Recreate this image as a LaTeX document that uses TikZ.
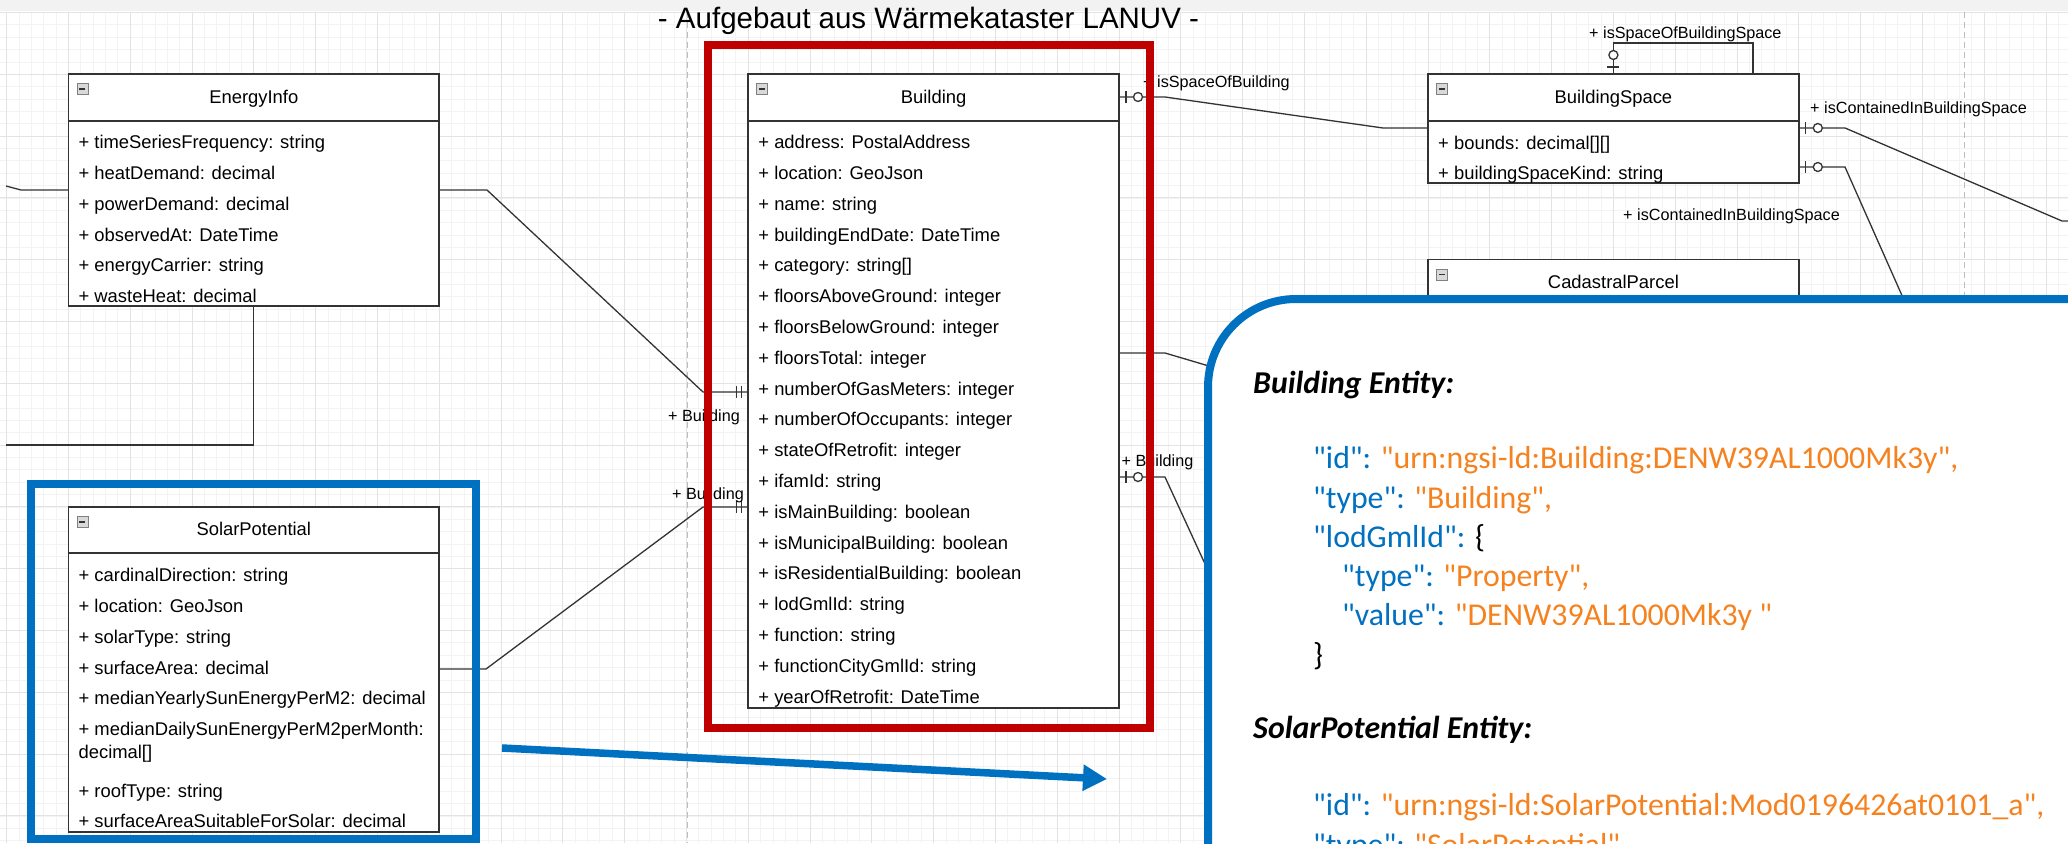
\documentclass[tikz,border=0pt]{standalone}
\usepackage{fontspec}
\setmainfont{Liberation Sans}
\newfontfamily\calfont{Carlito}
\usetikzlibrary{arrows.meta,calc}
\definecolor{gridmaj}{HTML}{E3E3E3}
\definecolor{gridmin}{HTML}{F3F3F3}
\definecolor{framec}{HTML}{333333}
\definecolor{redfr}{HTML}{C00000}
\definecolor{bluefr}{HTML}{0070C0}
\definecolor{jkey}{HTML}{0070C0}
\definecolor{jval}{HTML}{F5821F}
\definecolor{dashc}{HTML}{BDBDBD}
\definecolor{bandc}{HTML}{F2F2F2}
\begin{document}
\begin{tikzpicture}[x=1pt,y=-1pt,
 umlbox/.style={draw=framec, line width=1.5pt, fill=white, inner sep=0pt, outer sep=0pt, anchor=north west},
 conn/.style={draw=framec, line width=1.3pt},
 attr/.style={anchor=base west, inner sep=0pt, font=\fontsize{18.4}{22}\selectfont},
 hdr/.style={anchor=base, inner sep=0pt, font=\fontsize{18.4}{22}\selectfont},
 role/.style={anchor=base west, inner sep=0pt, font=\fontsize{16.2}{19}\selectfont},
 minusicon/.style={draw=gray, fill=gray!30, line width=0.8pt, minimum size=11pt, inner sep=0pt,
   path picture={\draw[line width=1.4pt,black!80] ([xshift=-3pt]path picture bounding box.center) -- ([xshift=3pt]path picture bounding box.center);}},
 json/.style={anchor=base west, inner sep=0pt, font=\calfont\fontsize{31.8}{38}\selectfont},
 jhead/.style={anchor=base west, inner sep=0pt, font=\calfont\bfseries\itshape\fontsize{31.8}{38}\selectfont},
 zo/.pic={\draw[conn] (7,-6) -- (7,6); \draw[conn, fill=white] (19,0) circle (4.5pt);},
 one/.pic={\draw[conn] (-12,-6) -- (-12,6) (-7,-6) -- (-7,6);},
 hdrline/.style={draw=framec, line width=1.5pt}
]
\useasboundingbox (0,0) rectangle (2068,843);
\clip (0,0) rectangle (2068,843);
% background and grid
\fill[white] (0,0) rectangle (2068,843);
\fill[bandc] (0,0) rectangle (2068,11);
\foreach \i in {0,...,167} \draw[gridmin, line width=0.8pt] ({6.6+12.36*\i},12) -- ({6.6+12.36*\i},843);
\foreach \i in {0,...,67} \draw[gridmin, line width=0.8pt] (0,{12.5+12.36*\i}) -- (2068,{12.5+12.36*\i});
\foreach \i in {0,...,33} \draw[gridmaj, line width=1pt] ({6.6+61.8*\i},12) -- ({6.6+61.8*\i},843);
\foreach \i in {0,...,13} \draw[gridmaj, line width=1pt] (0,{12.5+61.8*\i}) -- (2068,{12.5+61.8*\i});
\draw[dashc, dash pattern=on 6pt off 4pt, line width=1pt] (687,12) -- (687,843);
\draw[dashc, dash pattern=on 6pt off 4pt, line width=1pt] (1964,12) -- (1964,843);

% boxes
\node[umlbox, minimum width=370.8pt, minimum height=232pt] (ei) at (68.4,74) {};
\node[umlbox, minimum width=370.8pt, minimum height=634pt] (bld) at (748.2,74) {};
\node[umlbox, minimum width=370.8pt, minimum height=325pt] (sp) at (68.4,507) {};
\node[umlbox, minimum width=370.8pt, minimum height=109pt] (bs) at (1428,74) {};
\node[umlbox, minimum width=370.8pt, minimum height=160pt] (cp) at (1428,259.7) {};
\foreach \b in {ei,bld,bs,cp} \draw[hdrline] ([yshift=-47pt]\b.north west) -- ([yshift=-47pt]\b.north east);
\draw[hdrline] ([yshift=-46pt]sp.north west) -- ([yshift=-46pt]sp.north east);

% headers
\node[hdr] (eit) at ($(ei.north)+(0,29)$) {EnergyInfo};
\node[hdr] (bldt) at ($(bld.north)+(0,29)$) {Building};
\node[hdr] (spt) at ($(sp.north)+(0,28)$) {SolarPotential};
\node[hdr] (bst) at ($(bs.north)+(0,29)$) {BuildingSpace};
\node[hdr] (cpt) at ($(cp.north)+(0,28.3)$) {CadastralParcel};
\node[minusicon] (eim) at ($(ei.north west)+(14,15)$) {};
\node[minusicon] (bldm) at ($(bld.north west)+(14,15)$) {};
\node[minusicon] (spm) at ($(sp.north west)+(14,15)$) {};
\node[minusicon] (bsm) at ($(bs.north west)+(14,15)$) {};
\node[minusicon] (cpm) at ($(cp.north west)+(14,15)$) {};

% attributes
\foreach \t [count=\i from 0] in {{+ timeSeriesFrequency: string},{+ heatDemand: decimal},{+ powerDemand: decimal},{+ observedAt: DateTime},{+ energyCarrier: string},{+ wasteHeat: decimal}}
  \node[attr] (ea\i) at ($(ei.north west)+(10,{74.7+30.8*\i})$) {\t};
\foreach \t [count=\i from 0] in {{+ address: PostalAddress},{+ location: GeoJson},{+ name: string},{+ buildingEndDate: DateTime},{+ category: string[]},{+ floorsAboveGround: integer},{+ floorsBelowGround: integer},{+ floorsTotal: integer},{+ numberOfGasMeters: integer},{+ numberOfOccupants: integer},{+ stateOfRetrofit: integer},{+ ifamId: string},{+ isMainBuilding: boolean},{+ isMunicipalBuilding: boolean},{+ isResidentialBuilding: boolean},{+ lodGmlId: string},{+ function: string},{+ functionCityGmlId: string},{+ yearOfRetrofit: DateTime}}
  \node[attr] (ba\i) at ($(bld.north west)+(10,{74.7+30.8*\i})$) {\t};
\node[attr] (sa0) at ($(sp.north west)+(10,74)$) {+ cardinalDirection: string};
\node[attr] (sa1) at ($(sp.north west)+(10,105)$) {+ location: GeoJson};
\node[attr] (sa2) at ($(sp.north west)+(10,136)$) {+ solarType: string};
\node[attr] (sa3) at ($(sp.north west)+(10,167)$) {+ surfaceArea: decimal};
\node[attr] (sa4) at ($(sp.north west)+(10,197)$) {+ medianYearlySunEnergyPerM2: decimal};
\node[attr] (sa5) at ($(sp.north west)+(10,228.5)$) {+ medianDailySunEnergyPerM2perMonth:};
\node[attr] (sa6) at ($(sp.north west)+(10,251)$) {decimal[]};
\node[attr] (sa7) at ($(sp.north west)+(10,290)$) {+ roofType: string};
\node[attr] (sa8) at ($(sp.north west)+(10,320)$) {+ surfaceAreaSuitableForSolar: decimal};
\node[attr] (bsa0) at ($(bs.north west)+(10,75)$) {+ bounds: decimal[][]};
\node[attr] (bsa1) at ($(bs.north west)+(10,105.5)$) {+ buildingSpaceKind: string};

% connector bend points
\coordinate (c1a) at (487,190); \coordinate (c1b) at (703,392);
\coordinate (c2a) at (486,669); \coordinate (c2b) at (703,507);
\coordinate (c3a) at (1165,97); \coordinate (c3b) at (1383,128);
\coordinate (c4a) at (1753,43);
\coordinate (c5a) at (1845,128); \coordinate (c5b) at (2062,221); \coordinate (c5c) at (2080,221);
\coordinate (c6a) at (1845,167); \coordinate (c6b) at (1935,370);
\coordinate (c7a) at (1165,353); \coordinate (c7b) at (1300,393);
\coordinate (c8a) at (1165,477); \coordinate (c8b) at (1240,640);
\coordinate (c9a) at (21,190); \coordinate (c9b) at (6,186);
\coordinate (c10a) at (6,445);

% connectors
\draw[conn] (ei.east |- c1a) -- (c1a) -- (c1b) -- (bld.west |- c1b);
\draw[conn] (sp.east |- c2a) -- (c2a) -- (c2b) -- (bld.west |- c2b);
\draw[conn] (bld.east |- c3a) -- (c3a) -- (c3b) -- (bs.west |- c3b);
\draw[conn] (bs.north) -- (bs.north |- c4a) -- (c4a) -- (c4a |- bs.north);
\draw[conn] (bs.east |- c5a) -- (c5a) -- (c5b) -- (c5c);
\draw[conn] (bs.east |- c6a) -- (c6a) -- (c6b);
\draw[conn] (bld.east |- c7a) -- (c7a) -- (c7b);
\draw[conn] (bld.east |- c8a) -- (c8a) -- (c8b);
\draw[conn] (ei.west |- c9a) -- (c9a) -- (c9b);
\draw[conn] (ei.south) -- (ei.south |- c10a) -- (c10a);

% markers
\pic at (bld.east |- c3a) {zo};
\pic at (bld.east |- c8a) {zo};
\pic at (bs.east |- c5a) {zo};
\pic at (bs.east |- c6a) {zo};
\pic[rotate=90] at (bs.north) {zo};
\pic at (bld.west |- c1b) {one};
\pic at (bld.west |- c2b) {one};

% role labels
\node[role] (l1) at (1143,87) {+ isSpaceOfBuilding};
\node[role] (l2) at (1589,38) {+ isSpaceOfBuildingSpace};
\node[role] (l3) at (1810,113) {+ isContainedInBuildingSpace};
\node[role] (l4) at (1623,220) {+ isContainedInBuildingSpace};
\node[role] (l5) at (668,421) {+ Building};
\node[role] (l6) at (672,499) {+ Building};
\node[role] (l7) at (1121.5,466) {+ Building};

% highlight frames
\node[draw=redfr, line width=8pt, minimum width=442pt, minimum height=683pt, anchor=north west, inner sep=0pt, outer sep=0pt] (redbox) at (708,45) {};
\node[draw=bluefr, line width=8pt, minimum width=445pt, minimum height=355pt, anchor=north west, inner sep=0pt, outer sep=0pt] (bluebox) at (31,484) {};
\coordinate (ar1) at (502,748);
\coordinate (ar2) at (1107,779);
\draw[bluefr, line width=7.5pt, -{Triangle[length=24pt,width=25pt]}] (ar1) -- (ar2);

% callout
\node[draw=bluefr, line width=8pt, fill=white, rounded corners=88pt, minimum width=1000pt, minimum height=700pt, anchor=north west, inner sep=0pt, outer sep=0pt] (callout) at (1208,299) {};
\node[jhead] (h1) at (1253,393) {Building Entity:};
\node[json] (j1) at (1313,468) {\textcolor{jkey}{"id":} \textcolor{jval}{"urn:ngsi-ld:Building:DENW39AL1000Mk3y",}};
\node[json] (j2) at (1313,508) {\textcolor{jkey}{"type":} \textcolor{jval}{"Building",}};
\node[json] (j3) at (1313,547) {\textcolor{jkey}{"lodGmlId":} \{};
\node[json] (j4) at (1342,586) {\textcolor{jkey}{"type":} \textcolor{jval}{"Property",}};
\node[json] (j5) at (1342,625) {\textcolor{jkey}{"value":} \textcolor{jval}{"DENW39AL1000Mk3y "}};
\node[json] (j6) at (1313,665) {\}};
\node[jhead] (h2) at (1253,738) {SolarPotential Entity:};
\node[json] (j7) at (1313,815) {\textcolor{jkey}{"id":} \textcolor{jval}{"urn:ngsi-ld:SolarPotential:Mod0196426at0101\_a",}};
\node[json] (j8) at (1313,855) {\textcolor{jkey}{"type":} \textcolor{jval}{"SolarPotential",}};

% title
\node[anchor=base, inner sep=0pt, font=\fontsize{29.5}{34}\selectfont] (title) at (928.5,28.3) {- Aufgebaut aus Wärmekataster LANUV -};
\end{tikzpicture}
\end{document}
